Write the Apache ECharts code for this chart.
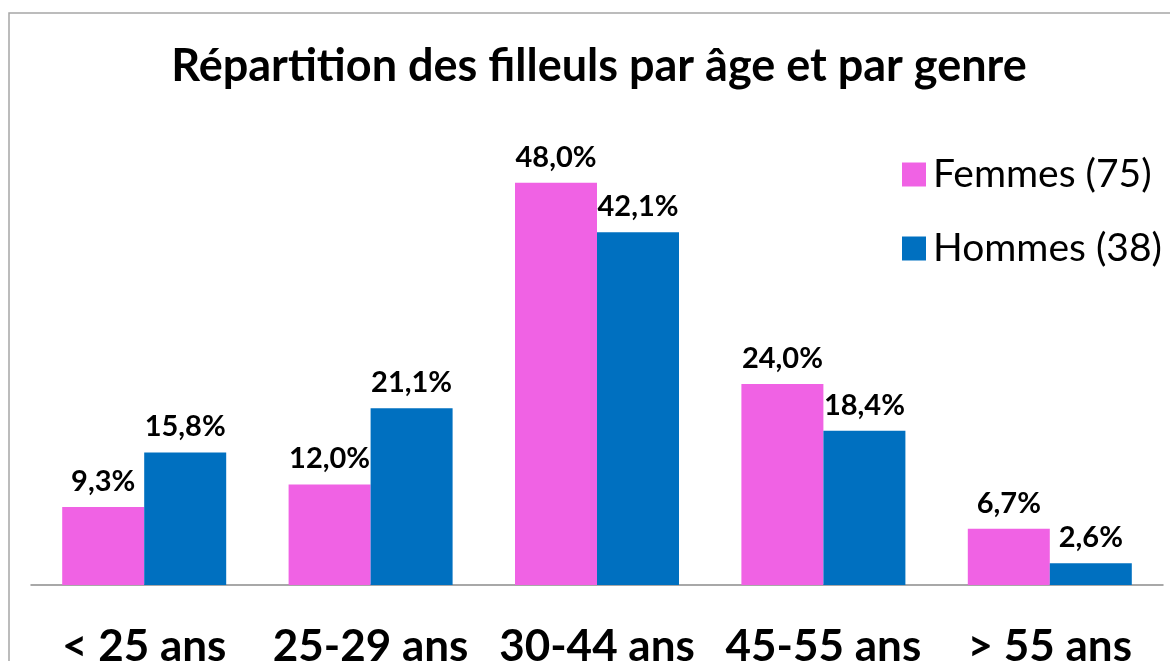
<!DOCTYPE html>
<html>
<head>
<meta charset="utf-8">
<script src="https://cdn.jsdelivr.net/npm/echarts@6/dist/echarts.min.js"></script>
<style>
html,body{margin:0;padding:0;background:#fff;}
#main{width:1170px;height:661px;}
</style>
</head>
<body>
<div id="main"></div>
<script>
// données
var categories = ['< 25 ans', '25-29 ans', '30-44 ans', '45-55 ans', '> 55 ans'];
var femmes = [9.3, 12.0, 48.0, 24.0, 6.7];
var hommes = [15.8, 21.1, 42.1, 18.4, 2.6];
var seriesNames = ['Femmes (75)', 'Hommes (38)'];

var chart = echarts.init(document.getElementById('main'));

function pct(p) {
  return p.value.toFixed(1).replace('.', ',') + '%';
}

var labelStyle = {
  show: true,
  position: 'top',
  distance: 11,
  formatter: pct,
  fontFamily: 'Lato',
  fontWeight: 'bold',
  fontSize: 29,
  color: '#000'
};

var option = {
  animation: false,
  backgroundColor: '#fff',
  title: {
    text: 'Répartition des filleuls par âge et par genre',
    left: 594,
    textAlign: 'center',
    top: 39,
    textStyle: { fontFamily: 'Lato', fontWeight: 'bold', fontSize: 45, color: '#000' }
  },
  legend: {
    orient: 'vertical',
    left: 897,
    top: 150,
    itemWidth: 24,
    itemHeight: 24,
    itemGap: 35,
    icon: 'rect',
    textStyle: { fontFamily: 'Lato', fontSize: 39, color: '#000', padding: [0, 0, 0, 2] },
    data: seriesNames
  },
  grid: { left: 31, right: 7, top: 166, bottom: 76, outerBoundsMode: 'none', containLabel: false },
  xAxis: {
    type: 'category',
    data: categories,
    axisLine: { lineStyle: { color: '#8c8c8c', width: 1.5 } },
    axisTick: { show: false },
    axisLabel: {
      interval: 0,
      margin: 40,
      fontFamily: 'Lato',
      fontWeight: 'bold',
      fontSize: 44,
      color: '#000'
    }
  },
  yAxis: {
    type: 'value',
    min: 0,
    max: 50,
    show: false
  },
  graphic: [{
    type: 'rect',
    shape: { x: 9, y: 13, width: 1200, height: 700 },
    style: { fill: 'none', stroke: '#a6a6a6', lineWidth: 1.5 },
    silent: true
  }],
  series: [{
    name: seriesNames[0],
    type: 'bar',
    data: femmes,
    barWidth: 82,
    barGap: 0,
    itemStyle: { color: '#F062E4' },
    label: labelStyle
  }, {
    name: seriesNames[1],
    type: 'bar',
    data: hommes,
    barWidth: 82,
    barGap: 0,
    itemStyle: { color: '#0070C0' },
    label: labelStyle
  }]
};

chart.setOption(option);
</script>
</body>
</html>
